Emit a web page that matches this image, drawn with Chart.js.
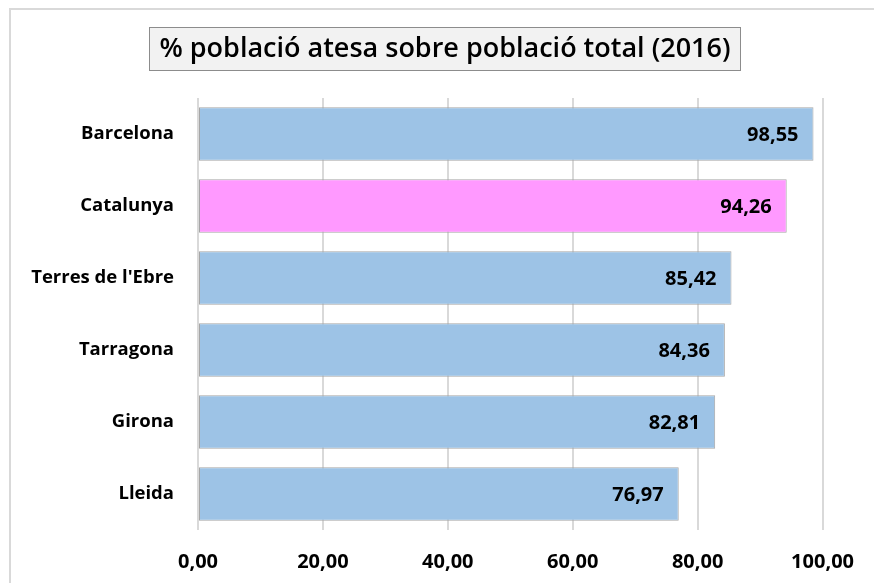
<!DOCTYPE html>
<html>
<head>
<meta charset="utf-8">
<style>
  html, body { margin: 0; padding: 0; background: #fff; overflow: hidden; }
  #wrap { width: 874px; height: 583px; position: relative; }
</style>
<script src="https://cdn.jsdelivr.net/npm/chart.js@4/dist/chart.umd.min.js"></script>
</head>
<body>
<div id="wrap"><canvas id="chart"></canvas></div>
<script>
// data
var regions = ["Barcelona", "Catalunya", "Terres de l'Ebre", "Tarragona", "Girona", "Lleida"];
var percentAttended = [98.55, 94.26, 85.42, 84.36, 82.81, 76.97];
var axisTicks = [0, 20, 40, 60, 80, 100];
var titleText = "% població atesa sobre població total (2016)";
var highlighted = "Catalunya";

var blue = "#9dc3e6";
var pink = "#ff99ff";
var barColors = regions.map(function (r) { return r === highlighted ? pink : blue; });

function fmt(v) {
  return v.toFixed(2).replace(".", ",");
}

// frame + boxed title
var framePlugin = {
  id: "frame",
  beforeDraw: function (chart) {
    var c = chart.ctx;
    c.save();
    c.fillStyle = "#fff";
    c.fillRect(0, 0, chart.width, chart.height);
    c.strokeStyle = "#d9d9d9";
    c.lineWidth = 2;
    c.beginPath();
    c.moveTo(10, chart.height + 5);
    c.lineTo(10, 9);
    c.lineTo(chart.width + 5, 9);
    c.stroke();

    c.font = "600 27px 'Open Sans'";
    var w = c.measureText(titleText).width;
    var cx = 445, cy = 48.5;
    var bw = w + 20, bh = 43;
    c.fillStyle = "#f2f2f2";
    c.fillRect(cx - bw / 2, cy - bh / 2, bw, bh);
    c.strokeStyle = "#8c8c8c";
    c.lineWidth = 1;
    c.strokeRect(Math.round(cx - bw / 2) + 0.5, Math.round(cy - bh / 2) + 0.5, Math.round(bw), bh);
    c.fillStyle = "#000";
    c.textAlign = "center";
    c.textBaseline = "middle";
    c.fillText(titleText, cx, cy + 1);
    c.restore();
  }
};

// value labels at the inside end of each bar
var valueLabels = {
  id: "valueLabels",
  afterDatasetsDraw: function (chart) {
    var c = chart.ctx;
    var meta = chart.getDatasetMeta(0);
    c.save();
    c.font = "bold 20px 'Open Sans'";
    c.fillStyle = "#000";
    c.textAlign = "right";
    c.textBaseline = "middle";
    meta.data.forEach(function (bar, i) {
      c.fillText(fmt(percentAttended[i]), bar.x - 15, bar.y + 1);
    });
    c.restore();
  }
};

var ctx = document.getElementById("chart").getContext("2d");
var chart = new Chart(ctx, {
  type: "bar",
  data: {
    labels: regions,
    datasets: [{
      data: percentAttended,
      backgroundColor: barColors,
      borderColor: "#a6a6a6",
      borderWidth: 1,
      borderSkipped: false,
      categoryPercentage: 1,
      barPercentage: 0.74
    }]
  },
  options: {
    indexAxis: "y",
    responsive: true,
    maintainAspectRatio: false,
    animation: false,
    layout: {
      padding: { top: 98, right: 51, bottom: 0, left: 0 }
    },
    plugins: {
      legend: { display: false },
      title: { display: false },
      tooltip: { enabled: false }
    },
    scales: {
      x: {
        min: 0,
        max: 100,
        afterBuildTicks: function (scale) {
          scale.ticks = axisTicks.map(function (v) { return { value: v }; });
        },
        afterFit: function (scale) { scale.height = 53; },
        grid: {
          color: "#d9d9d9",
          lineWidth: 2,
          drawTicks: false
        },
        border: { display: false },
        ticks: {
          padding: 20,
          color: "#000",
          font: { family: "Open Sans", size: 20, weight: "bold" },
          callback: function (v) { return fmt(v); }
        }
      },
      y: {
        afterFit: function (scale) { scale.width = 198; },
        grid: { display: false, drawTicks: false },
        border: { display: false },
        ticks: {
          padding: 24,
          color: "#000",
          font: { family: "Open Sans", size: 18.5, weight: "bold" }
        }
      }
    }
  },
  plugins: [framePlugin, valueLabels]
});
</script>
</body>
</html>
